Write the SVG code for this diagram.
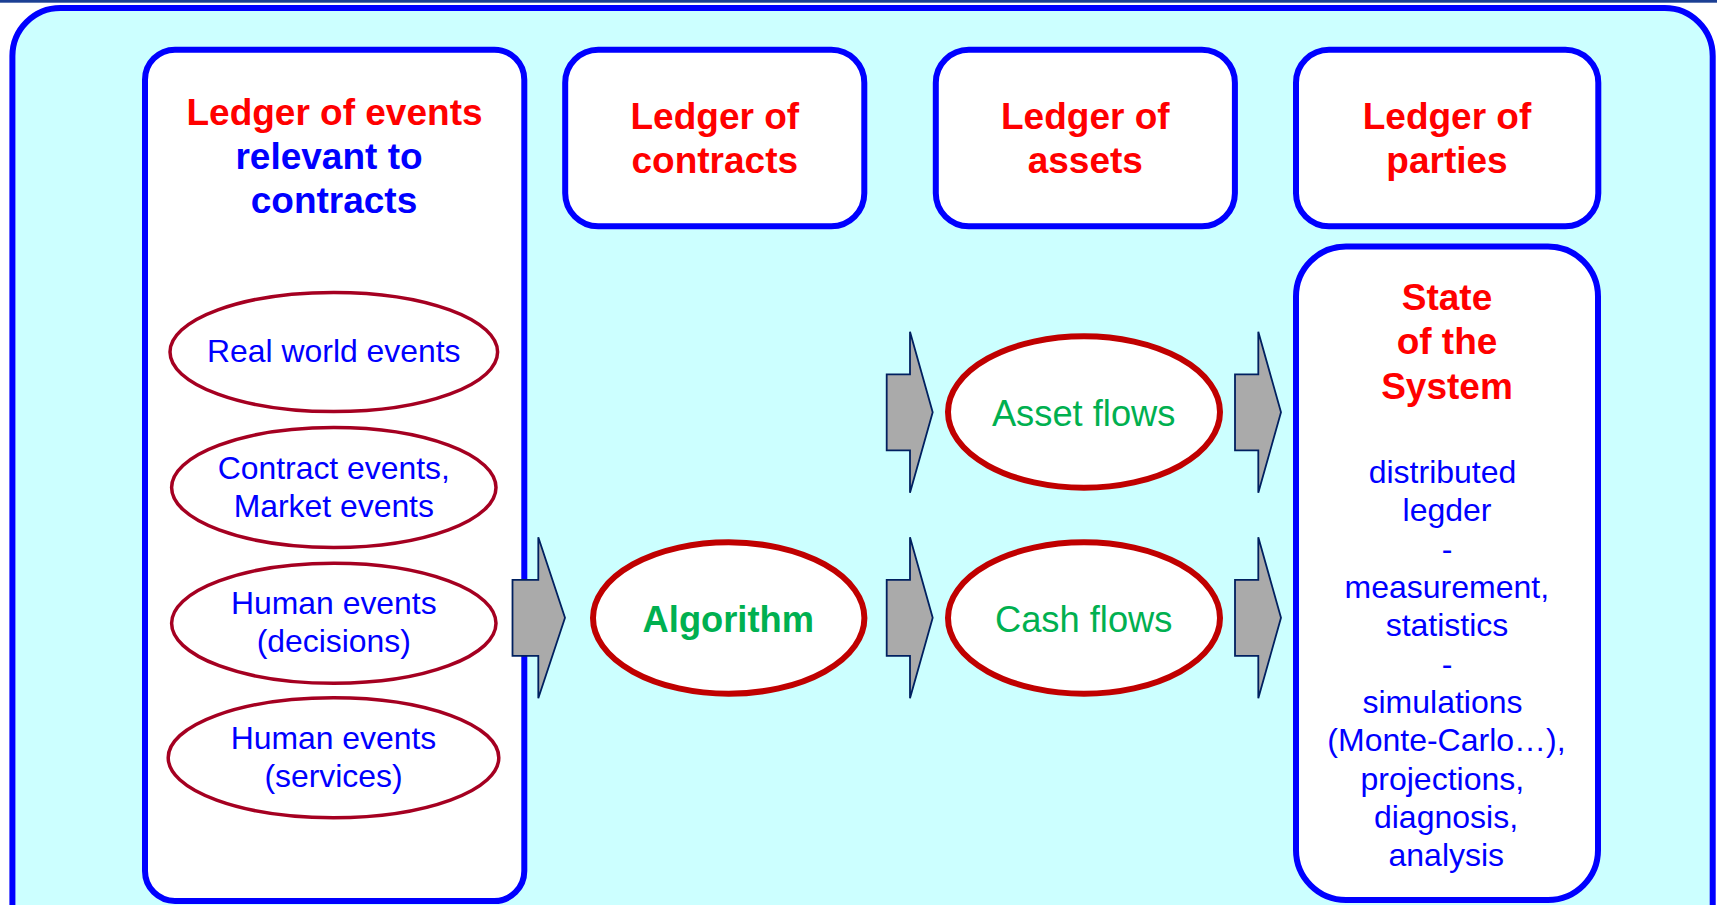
<svg xmlns="http://www.w3.org/2000/svg" width="1717" height="905" viewBox="0 0 1717 905">
  <style>
    .frame { fill: #ccffff; stroke: #0000ff; stroke-width: 6; }
    .box { fill: #ffffff; stroke: #0000ff; stroke-width: 6; }
    .evt { fill: #ffffff; stroke: #a50021; stroke-width: 3.5; }
    .flow { fill: #ffffff; stroke: #c00000; stroke-width: 6; }
    .arrow { fill: #aaaaaa; stroke: #002060; stroke-width: 1.8; stroke-linejoin: miter; }
    text { font-family: "Liberation Sans", Arial, sans-serif; text-anchor: middle; }
    .title { font-size: 37px; font-weight: bold; fill: #ff0000; }
    .title-blue { font-size: 37px; font-weight: bold; fill: #0000ff; }
    .evt-label { font-size: 31.9px; fill: #0000ff; }
    .flow-label { font-size: 36.3px; fill: #00b050; }
    .algo-label { font-size: 36.3px; font-weight: bold; fill: #00b050; }
    .body { font-size: 32px; fill: #0000ff; }
  </style>

  <!-- page background and top rule -->
  <rect x="0" y="0" width="1717" height="905" fill="#ffffff"/>
  <rect x="0" y="0" width="1717" height="2.7" fill="#1c3f94"/>

  <!-- outer frame -->
  <rect class="frame" x="12.4" y="8" width="1700.3" height="960" rx="48" ry="48"/>

  <!-- ledger of events -->
  <g id="events-ledger">
    <rect class="box" x="145" y="49.7" width="379.3" height="851.3" rx="30" ry="30"/>
    <text class="title" x="334.5" y="125">Ledger of events</text>
    <text class="title-blue" x="329" y="168.5">relevant to</text>
    <text class="title-blue" x="334" y="213">contracts</text>
  </g>

  <g id="real-world-events">
    <ellipse class="evt" cx="333.8" cy="352" rx="163.8" ry="59.6"/>
    <text class="evt-label" x="333.8" y="362.3">Real world events</text>
  </g>

  <g id="contract-market-events">
    <ellipse class="evt" cx="333.8" cy="487.5" rx="162.2" ry="60"/>
    <text class="evt-label" x="333.8" y="479.3">Contract events,</text>
    <text class="evt-label" x="333.8" y="517.3">Market events</text>
  </g>

  <g id="human-decisions">
    <ellipse class="evt" cx="333.8" cy="623.3" rx="162.2" ry="60"/>
    <text class="evt-label" x="333.8" y="614.3">Human events</text>
    <text class="evt-label" x="333.8" y="651.5">(decisions)</text>
  </g>

  <g id="human-services">
    <ellipse class="evt" cx="333.5" cy="757.7" rx="165.3" ry="60"/>
    <text class="evt-label" x="333.5" y="749.3">Human events</text>
    <text class="evt-label" x="333.5" y="786.7">(services)</text>
  </g>

  <!-- ledgers across the top -->
  <g id="contracts-ledger">
    <rect class="box" x="565.2" y="49.7" width="299.1" height="176.6" rx="33" ry="33"/>
    <text class="title" x="714.8" y="129.3">Ledger of</text>
    <text class="title" x="714.8" y="173.3">contracts</text>
  </g>

  <g id="assets-ledger">
    <rect class="box" x="935.8" y="49.7" width="299.1" height="176.6" rx="33" ry="33"/>
    <text class="title" x="1085.3" y="129.3">Ledger of</text>
    <text class="title" x="1085.3" y="173.3">assets</text>
  </g>

  <g id="parties-ledger">
    <rect class="box" x="1296" y="49.7" width="302.3" height="176.6" rx="33" ry="33"/>
    <text class="title" x="1447" y="129.3">Ledger of</text>
    <text class="title" x="1447" y="173.3">parties</text>
  </g>

  <!-- processing -->
  <g id="algorithm">
    <ellipse class="flow" cx="728.7" cy="618" rx="135.7" ry="75.7"/>
    <text class="algo-label" x="728.3" y="632">Algorithm</text>
  </g>

  <g id="asset-flows">
    <ellipse class="flow" cx="1084" cy="412" rx="136" ry="75.7"/>
    <text class="flow-label" x="1083.7" y="426">Asset flows</text>
  </g>

  <g id="cash-flows">
    <ellipse class="flow" cx="1084" cy="618" rx="136" ry="75.7"/>
    <text class="flow-label" x="1083.7" y="631.7">Cash flows</text>
  </g>

  <!-- resulting state -->
  <g id="system-state">
    <rect class="box" x="1296" y="246.5" width="302" height="653.5" rx="50" ry="50"/>
    <text class="title" x="1447" y="309.6">State</text>
    <text class="title" x="1447" y="354.3">of the</text>
    <text class="title" x="1447" y="398.8">System</text>
    <text class="body" x="1442.5" y="483">distributed</text>
    <text class="body" x="1447" y="521.3">legder</text>
    <text class="body" x="1447" y="559.7">-</text>
    <text class="body" x="1446.8" y="598">measurement,</text>
    <text class="body" x="1447" y="636.3">statistics</text>
    <text class="body" x="1447" y="674.6">-</text>
    <text class="body" x="1442.5" y="713">simulations</text>
    <text class="body" x="1446.5" y="751.3">(Monte-Carlo…),</text>
    <text class="body" x="1442.3" y="789.6">projections,</text>
    <text class="body" x="1446" y="828">diagnosis,</text>
    <text class="body" x="1446.3" y="866.3">analysis</text>
  </g>

  <!-- block arrows between stages -->
  <g id="connectors">
    <polygon class="arrow" points="512.5,579.8 538.3,579.8 538.3,537.3 565,617.8 538.3,698.3 538.3,655.8 512.5,655.8"/>
    <polygon class="arrow" points="886.7,374.3 910,374.3 910,331.8 932.7,412.3 910,492.8 910,450.3 886.7,450.3"/>
    <polygon class="arrow" points="886.7,579.8 910,579.8 910,537.3 932.7,617.8 910,698.3 910,655.8 886.7,655.8"/>
    <polygon class="arrow" points="1235,374.3 1258.3,374.3 1258.3,331.8 1281,412.3 1258.3,492.8 1258.3,450.3 1235,450.3"/>
    <polygon class="arrow" points="1235,579.8 1258.3,579.8 1258.3,537.3 1281,617.8 1258.3,698.3 1258.3,655.8 1235,655.8"/>
  </g>
</svg>
